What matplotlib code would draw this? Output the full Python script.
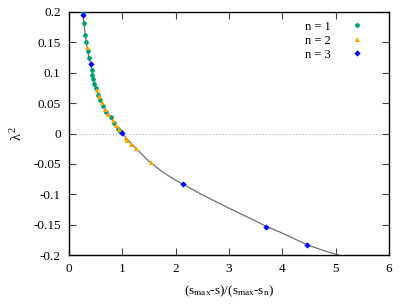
import matplotlib
matplotlib.use("Agg")
import matplotlib.pyplot as plt

# fitted curve
curve_x = [0.262, 0.28, 0.30, 0.325, 0.35, 0.375, 0.41, 0.45, 0.50, 0.55, 0.60, 0.65, 0.70, 0.80, 0.90,
           1.00, 1.10, 1.25, 1.50, 1.75, 2.00, 2.15, 2.50, 3.00, 3.50, 3.70, 4.00, 4.46, 4.75, 5.05]
curve_y = [0.200, 0.182, 0.166, 0.150, 0.136, 0.125, 0.112, 0.095, 0.078, 0.064, 0.054, 0.045, 0.037, 0.025, 0.012,
           0.000, -0.010, -0.024, -0.046, -0.063, -0.077, -0.084, -0.101, -0.123, -0.144, -0.153, -0.164, -0.183, -0.192, -0.200]

n1_x = [0.27, 0.28, 0.305, 0.325, 0.35, 0.375, 0.425, 0.43, 0.455, 0.475, 0.50, 0.55, 0.59, 0.64, 0.69, 0.78, 0.85, 0.92, 0.96]
n1_y = [0.200, 0.182, 0.162, 0.150, 0.135, 0.124, 0.105, 0.097, 0.089, 0.081, 0.075, 0.063, 0.055, 0.046, 0.036, 0.027, 0.018, 0.008, 0.004]

n2_x = [0.337, 0.53, 0.57, 0.61, 0.67, 0.74, 0.82, 0.89, 0.94, 1.07, 1.09, 1.17, 1.25, 1.53]
n2_y = [0.142, 0.072, 0.061, 0.052, 0.041, 0.032, 0.022, 0.014, 0.008, -0.008, -0.011, -0.017, -0.024, -0.047]

n3_x = [0.27, 0.41, 0.99, 2.14, 3.70, 4.46]
n3_y = [0.195, 0.114, 0.001, -0.083, -0.154, -0.183]

labels = ["n = 1", "n = 2", "n = 3"]
xticks = [0, 1, 2, 3, 4, 5, 6]
yticks = [0.2, 0.15, 0.1, 0.05, 0, -0.05, -0.1, -0.15, -0.2]
ytick_labels = ["0.2", "0.15", "0.1", "0.05", "0", "-0.05", "-0.1", "-0.15", "-0.2"]

plt.rcParams['font.family'] = ['Liberation Serif', 'DejaVu Serif']
plt.rcParams['mathtext.fontset'] = 'custom'
plt.rcParams['mathtext.rm'] = 'Liberation Serif'
plt.rcParams['mathtext.it'] = 'Liberation Serif'

fig = plt.figure(figsize=(4.11, 3.08), dpi=100)
ax = fig.add_axes([69/411, 1-255/308, 320/411, 243/308])

ax.axhline(0, color='#aaaaaa', lw=0.8, ls=(0, (1, 2)), zorder=1)
ax.plot(curve_x, curve_y, color='#707070', lw=0.9, zorder=2)
ax.plot(n1_x, n1_y, 'o', color='#009e73', ms=3.4, mew=0, label=labels[0], zorder=3)
ax.plot(n2_x, n2_y, '^', color='#ffa500', ms=3.6, mew=0, label=labels[1], zorder=3)
ax.plot(n3_x, n3_y, 'D', color='#0000ff', ms=3.2, mew=0, label=labels[2], zorder=4)

ax.set_xlim(0, 6)
ax.set_ylim(-0.2, 0.2)
ax.set_xticks(xticks)
ax.set_yticks(yticks)
ax.set_yticklabels(ytick_labels)
ax.tick_params(direction='in', top=True, right=True, length=5, width=0.8, labelsize=9.5, pad=6, color='#444444')
for s in ax.spines.values():
    s.set_linewidth(1.0)

ax.set_ylabel(r'$\lambda^2$', fontsize=10.5, labelpad=6)
ax.set_xlabel(r'(s$_{\mathrm{max}}$-s)/(s$_{\mathrm{max}}$-s$_{\mathrm{n}}$)', fontsize=9.5, labelpad=6)

leg = ax.legend(loc='upper right', frameon=False, markerfirst=False, fontsize=9,
                handlelength=1.0, handletextpad=1.6, labelspacing=0.15, borderaxespad=0.3,
                bbox_to_anchor=(0.947, 1.0))
for t in leg.get_texts():
    t.set_ha('left')

fig.savefig('out.png', dpi=100)
